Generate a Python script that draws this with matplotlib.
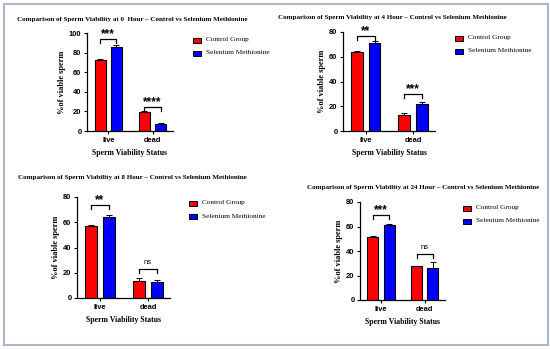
import matplotlib
matplotlib.use('Agg')
import matplotlib.pyplot as plt
from matplotlib.patches import Rectangle

W, H = 550, 349

groups = ['live', 'dead']
series = ['Control Group', 'Selenium Methionine']
colors = ['#ff0000', '#0000ff']

hours = ['0 ', '4', '8', '24']
control = [[72, 19], [63.5, 13], [57, 13.5], [51.5, 27.5]]
selenium = [[86, 7.5], [71, 22], [64, 12.5], [61, 26.5]]
control_err = [[1.5, 1.5], [1.2, 1.2], [1.2, 2.0], [1.0, 0.6]]
selenium_err = [[1.5, 0.8], [1.5, 1.5], [1.5, 2.0], [0.8, 4.5]]
sig_labels = [['***', '****'], ['**', '***'], ['**', 'ns'], ['***', 'ns']]
sig_heights = [[94, 24.5], [77, 30], [73.5, 23], [69, 37.5]]
ymax = [100, 80, 80, 80]

# panel layout in pixels: axis left, right, y of zero, y of top tick
axes_px = [(87, 173, 131, 33), (343, 435, 131, 32), (77, 170, 298, 197), (360, 445, 300, 202)]
title_px = [(17, 19), (278, 17), (18, 177), (307, 187)]
legend_px = [(193, 40), (455, 38), (189, 203), (463, 208)]

serif = 'Liberation Serif'
sans = 'Liberation Sans'

fig = plt.figure(figsize=(W / 100, H / 100), dpi=100)
fig.patches.append(Rectangle((4 / W, 4 / H), 544 / W, 341 / H, transform=fig.transFigure,
                             fill=False, edgecolor='#a9b7c9', linewidth=1.5))

for i in range(4):
    l, r, y0, yt = axes_px[i]
    ax = fig.add_axes([l / W, (H - y0) / H, (r - l) / W, (y0 - yt) / H])
    x = [0, 1]
    off = 0.185
    bw = 0.25
    ax.bar([v - off for v in x], control[i], bw, color=colors[0], edgecolor='black', linewidth=0.8,
           yerr=[[0, 0], control_err[i]], error_kw=dict(elinewidth=0.7, capsize=2, capthick=0.7, ecolor='black'))
    ax.bar([v + off for v in x], selenium[i], bw, color=colors[1], edgecolor='black', linewidth=0.8,
           yerr=[[0, 0], selenium_err[i]], error_kw=dict(elinewidth=0.7, capsize=2, capthick=0.7, ecolor='black'))
    ax.set_xlim(-0.48, 1.46)
    ax.set_ylim(0, ymax[i])
    ax.set_yticks(range(0, ymax[i] + 1, 20))
    ax.set_xticks(x)
    ax.set_xticklabels(groups)
    for sp in ['top', 'right']:
        ax.spines[sp].set_visible(False)
    for sp in ['left', 'bottom']:
        ax.spines[sp].set_linewidth(0.9)
    ax.tick_params(axis='both', direction='out', length=2.5, width=0.8, pad=1.5, labelsize=5.4)
    for t in ax.get_xticklabels() + ax.get_yticklabels():
        t.set_fontweight('bold')
        t.set_family(sans)
    ax.set_ylabel('%of viable sperm', fontsize=6.0, fontweight='bold', family=serif, labelpad=2)
    ax.set_xlabel('Sperm Viability Status', fontsize=5.6, fontweight='bold', family=serif, labelpad=4)

    # significance brackets
    drop = ymax[i] * 0.04
    for g in range(2):
        h = sig_heights[i][g]
        x1, x2 = x[g] - off, x[g] + off
        ax.plot([x1, x1, x2, x2], [h - drop, h, h, h - drop], color='black', lw=0.9, clip_on=False)
        lab = sig_labels[i][g]
        if lab == 'ns':
            ax.text(x[g], h + ymax[i] * 0.03, lab, ha='center', va='bottom', fontsize=5.6, family=sans)
        else:
            ax.text(x[g], h - ymax[i] * 0.01, lab, ha='center', va='bottom', fontsize=8.5,
                    fontweight='bold', family=sans)

    tx, ty = title_px[i]
    fig.text(tx / W, 1 - ty / H, 'Comparison of Sperm Viability at %s Hour – Control vs Selenium Methionine' % hours[i],
             ha='left', va='center', fontsize=5.0, fontweight='bold', family=serif)

    lx, ly = legend_px[i]
    for k in range(2):
        yy = ly + k * 13
        fig.patches.append(Rectangle((lx / W, 1 - (yy + 2.5) / H), 8 / W, 5 / H, transform=fig.transFigure,
                                     facecolor=colors[k], edgecolor='black', linewidth=0.7))
        fig.text((lx + 13) / W, 1 - yy / H, series[k], ha='left', va='center', fontsize=5.2, family=serif)

fig.savefig('out.png', dpi=100)
